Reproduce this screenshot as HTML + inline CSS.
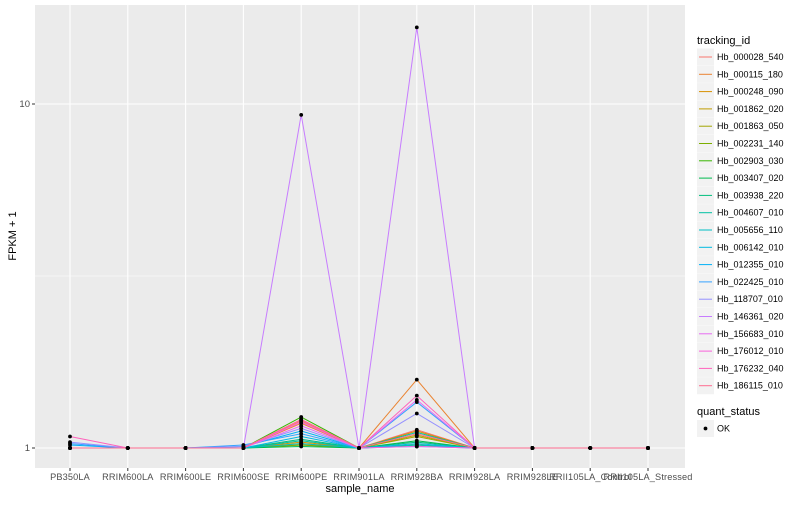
<!DOCTYPE html>
<html><head><meta charset="utf-8"><style>
body{margin:0;background:#fff;font-family:"Liberation Sans",Arial,sans-serif}
svg text{font-family:"Liberation Sans",Arial,sans-serif}
</style></head><body>
<svg id="chart" width="800" height="500" xmlns="http://www.w3.org/2000/svg">
<rect x="0" y="0" width="800" height="500" fill="#fff"/>
<rect x="35" y="5" width="650" height="463" fill="#ebebeb"/>
<g id="grid"></g><g id="lines"></g><g id="pts"></g><g id="axes"></g><g id="legend"></g>
</svg>
<script>
const categories=["PB350LA","RRIM600LA","RRIM600LE","RRIM600SE","RRIM600PE","RRIM901LA","RRIM928BA","RRIM928LA","RRIM928LE","RRII105LA_Control","RRII105LA_Stressed"];
const seriesNames=["Hb_000028_540","Hb_000115_180","Hb_000248_090","Hb_001862_020","Hb_001863_050","Hb_002231_140","Hb_002903_030","Hb_003407_020","Hb_003938_220","Hb_004607_010","Hb_005656_110","Hb_006142_010","Hb_012355_010","Hb_022425_010","Hb_118707_010","Hb_146361_020","Hb_156683_010","Hb_176012_010","Hb_176232_040","Hb_186115_010"];
const seriesColors=["#F8766D","#EA8331","#D89000","#C09B00","#A3A500","#7CAE00","#39B600","#00BB4E","#00BF7D","#00C1A3","#00BFC4","#00BAE0","#00B0F6","#35A2FF","#9590FF","#C77CFF","#E76BF3","#FA62DB","#FF62BC","#FF6C91"];
// values at PB350LA, RRIM600SE, RRIM600PE, RRIM928BA (others = 1)
const valPB350LA=[1,1,1,1,1,1,1,1,1,1,1,1,1.02,1.03,1.04,1,1,1,1.08,1];
const valSE=[1,1,1,1,1,1,1,1,1,1,1,1,1.01,1.02,1.01,1,1,1,1,1];
const valPE=[1.20,1.18,1.04,1.03,1.02,1.02,1.23,1.01,1.06,1.05,1.03,1.08,1.12,1.10,1.14,9.3,1.16,1.19,1.21,1.21];
const valBA=[1.13,1.58,1.12,1.09,1.08,1.02,1.02,1.05,1.04,1.11,1.02,1.03,1.01,1.36,1.26,16.7,1.38,1.01,1.42,1.10];
const NS="http://www.w3.org/2000/svg";
function mk(tag,attrs,parent,txt){const e=document.createElementNS(NS,tag);for(const k in attrs)e.setAttribute(k,attrs[k]);if(txt!==undefined)e.textContent=txt;parent.appendChild(e);return e;}
const x0=70,dx=57.8;
function xs(i){return x0+i*dx;}
function ys(v){return 448-344*Math.log10(v);}
const grid=document.getElementById('grid');
[Math.sqrt(10)].forEach(v=>{const l=mk('line',{x1:35,x2:685,y1:ys(v),y2:ys(v),stroke:'#fff','stroke-width':0.5},grid);});
[1,10].forEach(v=>{const l=mk('line',{x1:35,x2:685,y1:ys(v),y2:ys(v),stroke:'#fff','stroke-width':1.1},grid);});
categories.forEach((c,i)=>{const l=mk('line',{x1:xs(i),x2:xs(i),y1:5,y2:468,stroke:'#fff','stroke-width':1.1},grid);});
function vals(s){return categories.map((c,i)=>i===0?valPB350LA[s]:i===3?valSE[s]:i===4?valPE[s]:i===6?valBA[s]:1);}
const lines=document.getElementById('lines'),pts=document.getElementById('pts');
seriesNames.forEach((n,s)=>{const v=vals(s);const p=mk('polyline',{points:v.map((y,i)=>xs(i)+','+ys(y)).join(' '),fill:'none',stroke:seriesColors[s],'stroke-width':1},lines);});
seriesNames.forEach((n,s)=>{vals(s).forEach((y,i)=>{const c=mk('circle',{cx:xs(i),cy:ys(y),r:1.9,fill:'#000'},pts);});});
const ax=document.getElementById('axes');
[[1,'1'],[10,'10']].forEach(([v,t])=>{mk('line',{x1:32,x2:35,y1:ys(v),y2:ys(v),stroke:'#333'},ax);const e=mk('text',{x:30,y:ys(v)+3,'text-anchor':'end','font-size':9.5,fill:'#4d4d4d'},ax,t);});
categories.forEach((c,i)=>{mk('line',{x1:xs(i),x2:xs(i),y1:468,y2:471,stroke:'#333'},ax);const e=mk('text',{x:xs(i),y:480,'text-anchor':'middle','font-size':9.2,'letter-spacing':0.15,fill:'#4d4d4d'},ax,c);});
let t=mk('text',{x:360,y:492,'text-anchor':'middle','font-size':11,fill:'#000'},ax,'sample_name');
t=mk('text',{x:16,y:236,'text-anchor':'middle','font-size':11,fill:'#000',transform:'rotate(-90 16 236)'},ax,'FPKM + 1');
const lg=document.getElementById('legend');
t=mk('text',{x:697,y:44,'font-size':11,fill:'#000'},lg,'tracking_id');
seriesNames.forEach((n,s)=>{const cy=57+s*17.3;mk('rect',{x:697,y:cy-8.5,width:17,height:17,fill:'#f2f2f2'},lg);mk('line',{x1:699,x2:712,y1:cy,y2:cy,stroke:seriesColors[s],'stroke-width':1},lg);const e=mk('text',{x:717,y:cy+3,'font-size':9,fill:'#000'},lg,n);});
t=mk('text',{x:697,y:415,'font-size':11,fill:'#000'},lg,'quant_status');
mk('rect',{x:697,y:420,width:17,height:17,fill:'#f2f2f2'},lg);mk('circle',{cx:705.5,cy:428.5,r:1.9,fill:'#000'},lg);
t=mk('text',{x:717,y:431.5,'font-size':9,fill:'#000'},lg,'OK');
</script>
</body></html>
